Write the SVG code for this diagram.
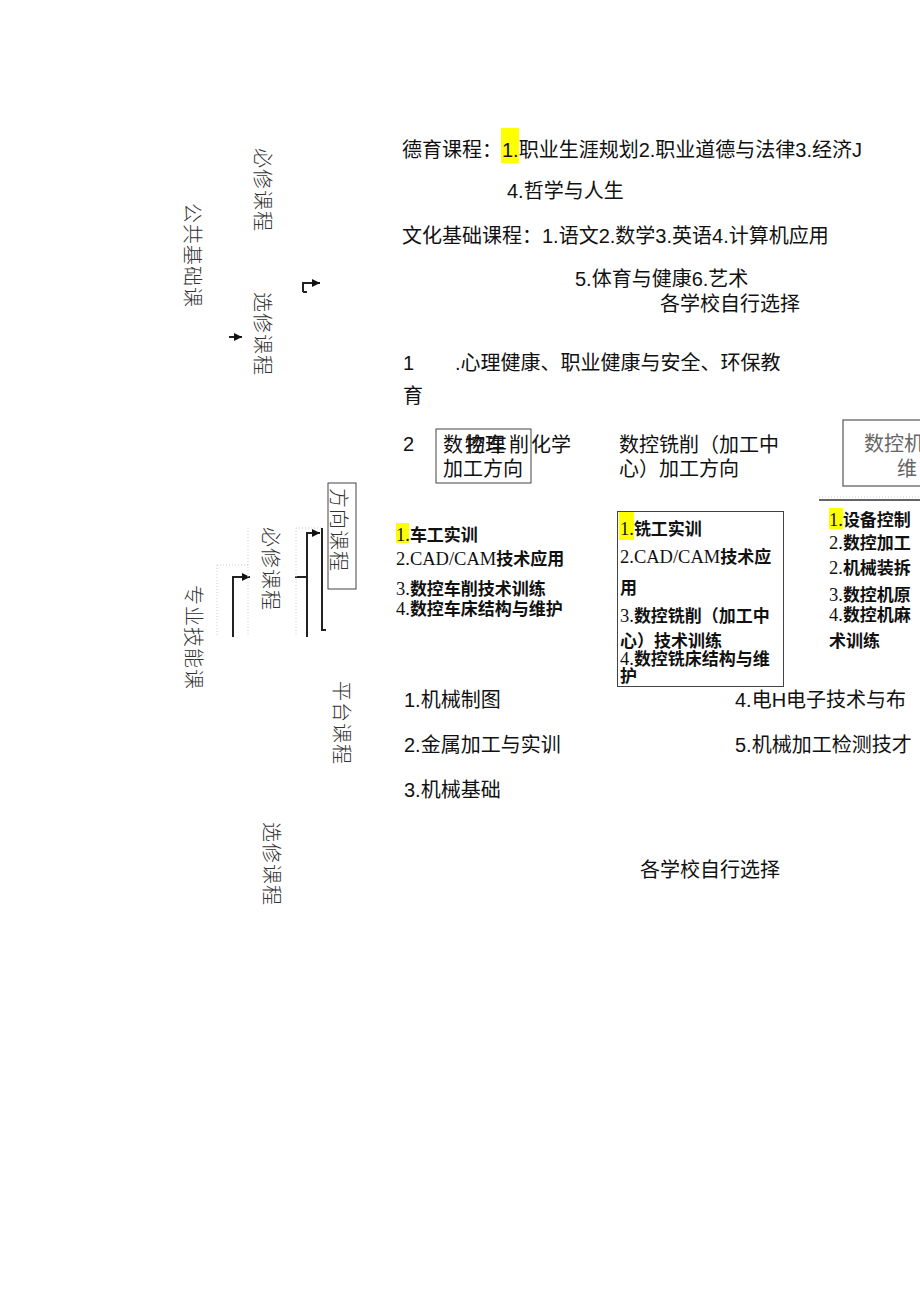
<svg xmlns="http://www.w3.org/2000/svg" width="920" height="1301" viewBox="0 0 920 1301">
<style>
  .t { font-family: "Liberation Sans", "Noto Sans CJK SC", sans-serif; font-size: 20px; fill: #111; }
  .v { font-family: "Noto Sans CJK SC", sans-serif; font-size: 20px; font-weight: 300; fill: #333; }
  .s { font-family: "Liberation Serif", "Noto Sans CJK SC", serif; font-size: 18.5px; fill: #111; }
  .b { font-family: "Noto Sans CJK SC", sans-serif; font-weight: bold; font-size: 17px; }
  .hl { fill: #ffff00; }
  .ln { fill: none; stroke: #222; stroke-width: 2; }
  .faint { fill: none; stroke: #ccc; stroke-width: 1; stroke-dasharray: 1 2; }
  .box { fill: none; stroke: #444; stroke-width: 1; }
</style>
<defs>
  <marker id="ah" viewBox="0 0 10 10" refX="10" refY="5" markerWidth="4" markerHeight="4" orient="auto" markerUnits="strokeWidth">
    <path d="M0,0 L10,5 L0,10 z" fill="#111"/>
  </marker>
</defs>
<rect width="920" height="1301" fill="#fff"/>

<!-- highlights -->
<g id="highlights">
  <rect class="hl" x="501" y="128" width="18" height="35"/>
  <rect class="hl" x="396" y="523" width="13" height="20"/>
  <rect class="hl" x="619" y="512" width="15" height="28"/>
  <rect class="hl" x="829" y="508" width="14" height="21"/>
</g>

<!-- vertical labels -->
<g id="gonggong"><text class="v" transform="translate(185,203) rotate(90)" letter-spacing="1">公共基础课</text></g>
<g id="bixiu1"><text class="v" transform="translate(255,148) rotate(90)" letter-spacing="1">必修课程</text></g>
<g id="xuanxiu1"><text class="v" transform="translate(255,292) rotate(90)" letter-spacing="1">选修课程</text></g>
<g id="fangxiang">
  <rect class="box" x="328" y="483" width="28" height="106" stroke="#666"/>
  <text class="v" transform="translate(331,488) rotate(90)" font-size="19" letter-spacing="1">方向课程</text>
</g>
<g id="bixiu2"><text class="v" transform="translate(263,527) rotate(90)" letter-spacing="1">必修课程</text></g>
<g id="zhuanye"><text class="v" transform="translate(186,585) rotate(90)" letter-spacing="1">专业技能课</text></g>
<g id="pingtai"><text class="v" transform="translate(334,681) rotate(90)" letter-spacing="1">平台课程</text></g>
<g id="xuanxiu2"><text class="v" transform="translate(264,822) rotate(90)" letter-spacing="1">选修课程</text></g>

<!-- connectors -->
<g id="connectors">
  <path class="ln" d="M303,292 L307,292 M303,292 L303,283 L320,283" marker-end="url(#ah)"/>
  <path class="ln" d="M229,337 L242,337" marker-end="url(#ah)"/>
  <path class="ln" d="M307,637 L307,533 L320,533" marker-end="url(#ah)"/>
  <path class="ln" d="M295,577 L307,577"/>
  <path class="ln" d="M233,637 L233,577 L250,577" marker-end="url(#ah)"/>
  <path class="ln" d="M322,528 L322,630 L326,630"/>
  <path class="faint" d="M248,528 L248,636 M296,528 L296,636 M217,565 L217,636 M217,565 L248,565 M296,528 L322,528"/>
</g>

<!-- public basic courses -->
<g id="deyu">
  <text class="t" x="402" y="157">德育课程：1.职业生涯规划2.职业道德与法律3.经济J</text>
  <text class="t" x="507" y="198">4.哲学与人生</text>
</g>
<g id="wenhua">
  <text class="t" x="402" y="243">文化基础课程：1.语文2.数学3.英语4.计算机应用</text>
  <text class="t" x="575" y="286">5.体育与健康6.艺术</text>
  <text class="t" x="660" y="311">各学校自行选择</text>
</g>
<g id="xuanxiu-list">
  <text class="t" x="403" y="370">1</text>
  <text class="t" x="455" y="370">.心理健康、职业健康与安全、环保教</text>
  <text class="t" x="403" y="403">育</text>
  <text class="t" x="403" y="451">2</text>
</g>

<!-- direction boxes -->
<g id="chexiao">
  <rect class="box" x="436" y="429" width="95" height="54"/>
  <text class="t" x="443" y="452" letter-spacing="2">数控车削</text>
  <text class="t" x="465" y="452">物理</text>
  <text class="t" x="531" y="452">化学</text>
  <text class="t" x="443" y="476">加工方向</text>
</g>
<g id="xixiao">
  <text class="t" x="619" y="452">数控铣削（加工中</text>
  <text class="t" x="619" y="476">心）加工方向</text>
</g>
<g id="jichuang">
  <rect x="843" y="420" width="100" height="66" fill="none" stroke="#777" stroke-width="1.5"/>
  <text class="t" x="864" y="451" font-size="21" style="fill:#666">数控机</text>
  <text class="t" x="897" y="476" font-size="21" style="fill:#666">维</text>
  <line x1="819" y1="500" x2="920" y2="500" stroke="#666" stroke-width="2"/>
  <line x1="819" y1="497" x2="920" y2="497" stroke="#ccc" stroke-width="1" stroke-dasharray="1 2"/>
</g>

<!-- lathe list -->
<g id="che-list">
  <text class="s" x="396" y="541">1.<tspan class="b">车工实训</tspan></text>
  <text class="s" x="396" y="565">2.CAD/CAM<tspan class="b">技术应用</tspan></text>
  <text class="s" x="396" y="595">3.<tspan class="b">数控车削技术训练</tspan></text>
  <text class="s" x="396" y="615">4.<tspan class="b">数控车床结构与维护</tspan></text>
</g>

<!-- milling list -->
<g id="xi-list">
  <rect class="box" x="617.5" y="511.5" width="166" height="175" stroke="#333"/>
  <text class="s" x="620" y="535">1.<tspan class="b">铣工实训</tspan></text>
  <text class="s" x="620" y="563">2.CAD/CAM<tspan class="b">技术应</tspan></text>
  <text class="s b" x="620" y="594">用</text>
  <text class="s" x="620" y="622">3.<tspan class="b">数控铣削（加工中</tspan></text>
  <text class="s b" x="620" y="647">心）技术训练</text>
  <text class="s" x="620" y="665">4.<tspan class="b">数控铣床结构与维</tspan></text>
  <text class="s b" x="620" y="682">护</text>
</g>

<!-- machine list -->
<g id="ji-list">
  <text class="s" x="829" y="526">1.<tspan class="b">设备控制</tspan></text>
  <text class="s" x="829" y="549">2.<tspan class="b">数控加工</tspan></text>
  <text class="s" x="829" y="574">2.<tspan class="b">机械装拆</tspan></text>
  <text class="s" x="829" y="601">3.<tspan class="b">数控机原</tspan></text>
  <text class="s" x="829" y="621">4.<tspan class="b">数控机麻</tspan></text>
  <text class="s b" x="829" y="647">术训练</text>
</g>

<!-- platform courses -->
<g id="pingtai-list">
  <text class="t" x="404" y="707">1.机械制图</text>
  <text class="t" x="404" y="752">2.金属加工与实训</text>
  <text class="t" x="404" y="797">3.机械基础</text>
  <text class="t" x="735" y="707">4.电H电子技术与布</text>
  <text class="t" x="735" y="752">5.机械加工检测技才</text>
</g>
<g id="xuanxiu2-note">
  <text class="t" x="640" y="877">各学校自行选择</text>
</g>
</svg>
